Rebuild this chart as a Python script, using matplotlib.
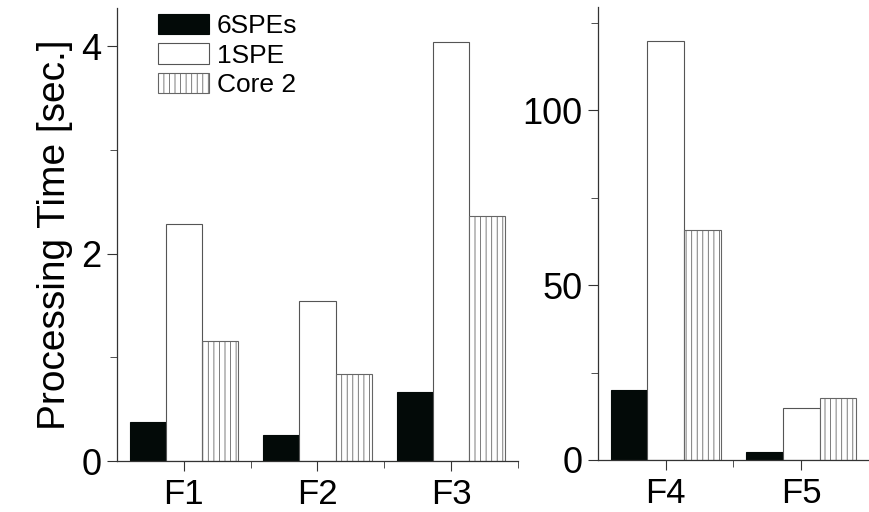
import matplotlib.pyplot as plt
import numpy as np
from matplotlib.ticker import MultipleLocator

plt.rcParams['font.family'] = ['Liberation Sans', 'DejaVu Sans']
plt.rcParams['hatch.linewidth'] = 0.6

series = ['6SPEs', '1SPE', 'Core 2']
left_cats = ['F1', 'F2', 'F3']
right_cats = ['F4', 'F5']
left_vals = {
    '6SPEs': [0.38, 0.25, 0.67],
    '1SPE': [2.29, 1.54, 4.04],
    'Core 2': [1.16, 0.84, 2.36],
}
right_vals = {
    '6SPEs': [20.0, 2.4],
    '1SPE': [119.7, 14.9],
    'Core 2': [65.7, 17.8],
}

styles = {
    '6SPEs': dict(color='#030a08', edgecolor='#030a08'),
    '1SPE': dict(color='white', edgecolor='#555555'),
    'Core 2': dict(color='white', edgecolor='#666666', hatch='|||'),
}

fig = plt.figure(figsize=(8.69, 5.12), dpi=100)
ax1 = fig.add_axes([0.1346, 0.0996, 0.4615, 0.885])
ax2 = fig.add_axes([0.688, 0.1016, 0.312, 0.885])

w = 0.27
for ax, cats, vals in [(ax1, left_cats, left_vals), (ax2, right_cats, right_vals)]:
    x = np.arange(len(cats))
    for i, s in enumerate(series):
        ax.bar(x + (i - 1) * w, vals[s], w, label=s, linewidth=0.8, **styles[s])
    ax.set_xticks(x)
    ax.set_xticklabels(cats)
    ax.set_xlim(-0.5, len(cats) - 0.5)
    ax.set_xticks(x + 0.5, minor=True)
    ax.spines['top'].set_visible(False)
    ax.spines['right'].set_visible(False)
    for sp in ['left', 'bottom']:
        ax.spines[sp].set_color('#333333')
        ax.spines[sp].set_linewidth(0.9)
    ax.tick_params(axis='both', which='major', labelsize=26, length=7, color='#333333', pad=4)
    ax.tick_params(axis='x', which='major', labelsize=25, pad=5)
    ax.tick_params(axis='both', which='minor', length=5, color='#333333')

ax1.set_ylim(0, 4.37)
ax1.set_yticks([0, 2, 4])
ax1.yaxis.set_minor_locator(MultipleLocator(1))
ax1.set_ylabel('Processing Time [sec.]', fontsize=28, labelpad=6)

ax2.set_ylim(0, 129.5)
ax2.set_yticks([0, 50, 100])
ax2.yaxis.set_minor_locator(MultipleLocator(25))

ax1.legend(loc='upper left', bbox_to_anchor=(0.075, 1.01), frameon=False, fontsize=19,
           handlelength=1.95, handleheight=0.8, labelspacing=0.2, handletextpad=0.3,
           borderaxespad=0)

fig.savefig('out.png', dpi=100)
